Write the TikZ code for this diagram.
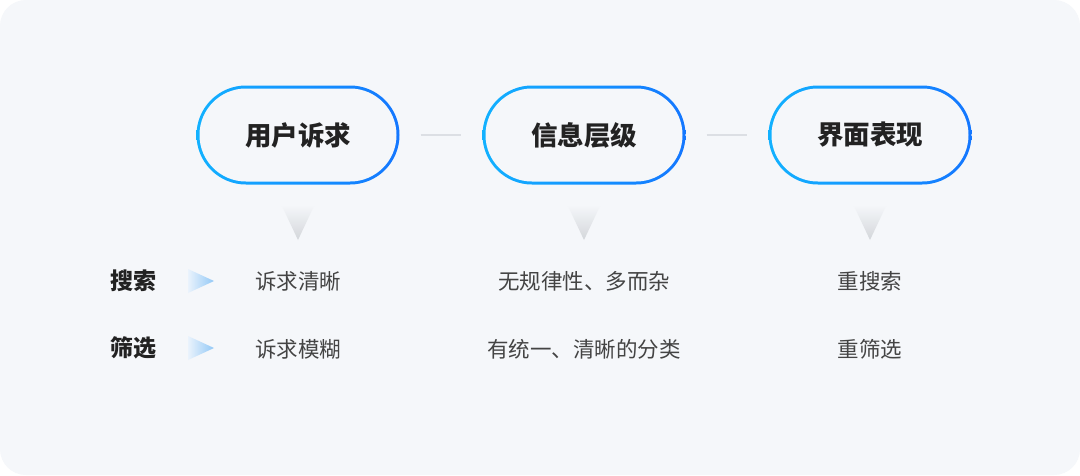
\documentclass[tikz,border=0pt]{standalone}
\usepackage{fontspec}
\usetikzlibrary{shapes.misc}
\setmainfont{Noto Sans CJK SC}
\newfontfamily\cjk{Noto Sans CJK SC}
\definecolor{bgc}{HTML}{F5F7FA}
\definecolor{cyanb}{HTML}{12B4FF}
\definecolor{blueb}{HTML}{1474FF}
\definecolor{linec}{HTML}{DCDFE4}
\definecolor{titlec}{HTML}{222222}
\definecolor{textc}{HTML}{444444}
\definecolor{trigray}{HTML}{D3D6DA}
\definecolor{arrowb}{HTML}{92C8F6}
\definecolor{arrowl}{HTML}{EAF3FC}
\begin{document}
\begin{tikzpicture}[x=1pt,y=-1pt,
  pillouter/.style={rounded rectangle, minimum width=203pt, minimum height=99pt, inner sep=0pt,
    path picture={\shade[left color=cyanb, right color=blueb]
      ([shift={(-10pt,-10pt)}]path picture bounding box.south west) rectangle
      ([shift={(10pt,10pt)}]path picture bounding box.north east);}},
  pillinner/.style={rounded rectangle, minimum width=197pt, minimum height=93pt, inner sep=0pt, fill=bgc, text=titlec, font=\cjk\bfseries\fontsize{26.5}{30}\selectfont},
  joint/.style={draw=linec, line width=2.2pt, shorten <=21pt, shorten >=21pt},
  sub/.style={text=textc, font=\cjk\fontsize{21.5}{25}\selectfont, inner sep=0pt},
  rowlabel/.style={text=titlec, font=\cjk\bfseries\fontsize{23}{27}\selectfont, inner sep=0pt}
]
\useasboundingbox (0,0) rectangle (1080,475);
\fill[white] (0,0) rectangle (1080,475);
\fill[bgc, rounded corners=26pt] (0,0) rectangle (1080,475);

% pills
\foreach \n/\x in {1/298,2/584,3/870}{
  \node[pillouter] (o\n) at (\x,135) {};
}
\node[pillinner] (p1) at (o1) {用户诉求};
\node[pillinner] (p2) at (o2) {信息层级};
\node[pillinner] (p3) at (o3) {界面表现};

\draw[joint] (o1.east) -- (o2.west);
\draw[joint] (o2.east) -- (o3.west);

% down triangles
\foreach \x in {298,584,870}{
  \shade[top color=bgc, bottom color=trigray] (\x-16.5,205) -- (\x+16.5,205) -- (\x,240) -- cycle;
}

% row labels
\node[rowlabel] (r1) at (133,281) {搜索};
\node[rowlabel] (r2) at (133,348) {筛选};

% small arrows
\foreach \y in {281,348}{
  \shade[left color=arrowl, right color=arrowb] (188,\y-12) -- (214,\y) -- (188,\y+12) -- cycle;
}

% texts
\node[sub] (a1) at (298,281) {诉求清晰};
\node[sub] (a2) at (584,281) {无规律性、多而杂};
\node[sub] (a3) at (870,281) {重搜索};
\node[sub] (b1) at (298,349) {诉求模糊};
\node[sub] (b2) at (584,349) {有统一、清晰的分类};
\node[sub] (b3) at (870,349) {重筛选};
\end{tikzpicture}
\end{document}
